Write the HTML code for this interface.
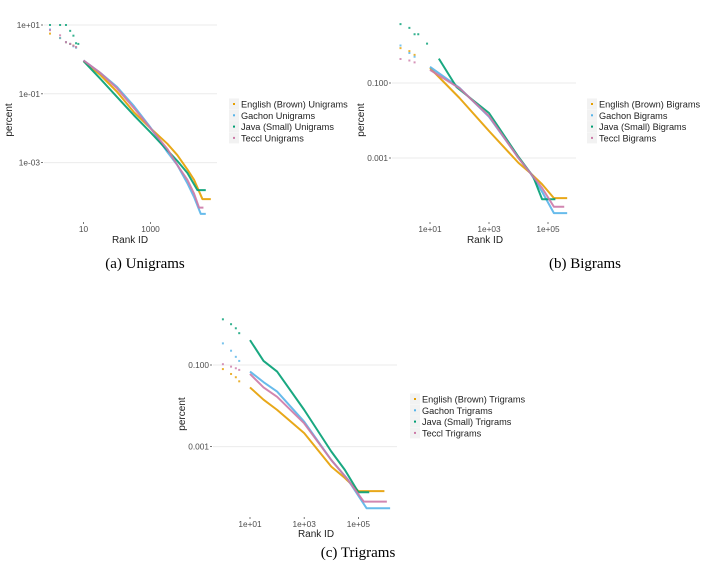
<!DOCTYPE html>
<html><head><meta charset="utf-8"><style>
body{margin:0;background:#fff;width:710px;height:567px;overflow:hidden}
svg{display:block}
.sans{font-family:"Liberation Sans",sans-serif}
.serif{font-family:"Liberation Serif",serif}
</style></head><body>
<svg id="s" width="710" height="567"></svg>
<script>
// ---- Data (log10 rank, log10 percent) ----
const seriesNames = ["English (Brown)","Gachon","Java (Small)","Teccl"];
const seriesColors = ["#E69F00","#56B4E9","#009E73","#CC79A7"];
// Unigrams
const uniRank = [
 [0,0.301,0.477,0.602,0.699,0.778,1,1.5,2,2.5,3,3.5,3.8,4.1,4.3,4.55,4.8],
 [0,0.301,0.477,0.602,0.699,0.778,1,1.5,2,2.5,3,3.5,3.8,4.1,4.3,4.5,4.65],
 [0,0.301,0.477,0.602,0.699,0.778,0.845,1,1.5,2,2.5,3,3.5,3.8,4.1,4.4,4.65],
 [0,0.301,0.477,0.602,0.699,0.778,1,1.5,2,2.5,3,3.5,3.8,4.1,4.3,4.45,4.58]];
const uniVal = [
 [0.75,0.62,0.5,0.45,0.4,0.35,-0.05,-0.45,-0.94,-1.53,-2.0,-2.45,-2.78,-3.2,-3.5,-4.06,-4.06],
 [0.87,0.62,0.5,0.45,0.38,0.34,-0.03,-0.39,-0.8,-1.35,-1.98,-2.69,-3.07,-3.6,-4.0,-4.49,-4.49],
 [1.0,1.0,1.0,0.83,0.69,0.47,0.45,-0.05,-0.56,-1.09,-1.62,-2.12,-2.64,-2.95,-3.3,-3.8,-3.8],
 [0.85,0.7,0.5,0.45,0.4,0.36,-0.03,-0.39,-0.84,-1.41,-2.0,-2.6,-3.07,-3.5,-3.9,-4.31,-4.31]];
// Bigrams
const biRank = [
 [0,0.301,0.477,1,2,3,4,4.4,4.8,5.2,5.65],
 [0,0.301,0.477,1,2,3,4,4.4,4.8,5.2,5.65],
 [0,0.301,0.477,0.602,0.9,1.3,1.9,3,4,4.5,4.8,5.25],
 [0,0.301,0.477,1,2,3,4,4.4,4.8,5.2,5.55]];
const biVal = [
 [-0.07,-0.15,-0.25,-0.6,-1.4,-2.28,-3.13,-3.4,-3.7,-4.07,-4.07],
 [0.0,-0.2,-0.3,-0.57,-1.13,-1.9,-3.0,-3.4,-3.9,-4.47,-4.47],
 [0.57,0.47,0.3,0.3,0.05,-0.35,-1.11,-1.8,-2.97,-3.5,-4.1,-4.1],
 [-0.36,-0.4,-0.45,-0.65,-1.14,-1.88,-3.0,-3.4,-3.8,-4.3,-4.3]];
// Trigrams
const triRank = [
 [0,0.301,0.477,0.602,1,1.5,2,3,4,4.5,5,5.96],
 [0,0.301,0.477,0.602,1,1.5,2,3,4,4.6,5.3,6.17],
 [0,0.301,0.477,0.602,1,1.5,2,3,4,4.5,5,5.4],
 [0,0.301,0.477,0.602,1,1.5,2,3,4,4.6,5.2,6.05]];
const triVal = [
 [-1.1,-1.22,-1.3,-1.4,-1.55,-1.85,-2.1,-2.67,-3.49,-3.77,-4.09,-4.09],
 [-0.47,-0.65,-0.8,-0.9,-1.16,-1.42,-1.65,-2.39,-3.33,-3.8,-4.51,-4.51],
 [0.12,0.0,-0.1,-0.22,-0.39,-0.9,-1.16,-2.1,-3.12,-3.57,-4.12,-4.12],
 [-0.98,-1.04,-1.08,-1.12,-1.22,-1.55,-1.78,-2.43,-3.33,-3.8,-4.35,-4.35]];
const uniXTicks = ["10","1000"], uniXTickPos=[1,3];
const uniYTicks = ["1e+01","1e-01","1e-03"], uniYTickPos=[1,-1,-3];
const biXTicks = ["1e+01","1e+03","1e+05"], biXTickPos=[1,3,5];
const biYTicks = ["0.100","0.001"], biYTickPos=[-1,-3];
const triXTicks = ["1e+01","1e+03","1e+05"], triXTickPos=[1,3,5];
const triYTicks = ["0.100","0.001"], triYTickPos=[-1,-3];

const NS="http://www.w3.org/2000/svg";
const svg=document.getElementById('s');
function mk(tag,attrs,parent,txt){const e=document.createElementNS(NS,tag);for(const k in attrs)e.setAttribute(k,attrs[k]);if(txt!==undefined)e.textContent=txt;(parent||svg).appendChild(e);return e;}

function chart(cfg){
 const g=mk('g',{});
 
 
 const X=lr=>cfg.x0+cfg.xd*lr, Y=lv=>cfg.y0-cfg.yd*(lv-cfg.yref);
 cfg.yTickPos.forEach((v,i)=>{
  const l=mk('line',{x1:cfg.gx0,x2:cfg.gx1,y1:Y(v),y2:Y(v),stroke:'#ebebeb','stroke-width':1},g);
  
  mk('line',{x1:cfg.gx0-3,x2:cfg.gx0-1,y1:Y(v),y2:Y(v),stroke:'#555','stroke-width':0.8},g);
  const t=mk('text',{class:'sans',x:cfg.gx0-4,y:Y(v)+3,'font-size':8.3,fill:'#4d4d4d','text-anchor':'end'},g,cfg.yTicks[i]);
  
 });
 cfg.xTickPos.forEach((v,i)=>{
  mk('line',{x1:X(v),x2:X(v),y1:cfg.axisY-4,y2:cfg.axisY-2,stroke:'#555','stroke-width':0.8},g);
  const t=mk('text',{class:'sans',x:X(v),y:cfg.axisY+6,'font-size':8.3,fill:'#4d4d4d','text-anchor':'middle'},g,cfg.xTicks[i]);
  
 });
 cfg.ranks.forEach((rk,si)=>{
  const vals=cfg.vals[si], col=seriesColors[si];
  const s=mk('g',{},g);
  
  
  let pts=[];
  rk.forEach((r,i)=>{
   if(r<0.95){mk('rect',{x:X(r)-1,y:Y(vals[i])-1,width:2,height:2,fill:col,opacity:0.8},s);}
   else pts.push(X(r)+','+Y(vals[i]));
  });
  mk('polyline',{points:pts.join(' '),fill:'none',stroke:col,'stroke-width':2,'stroke-linejoin':'round',opacity:0.9},s);
 });
 const yt=mk('text',{class:'sans',x:cfg.ylx,y:cfg.yly,'font-size':10,fill:'#222','text-anchor':'middle',transform:`rotate(-90 ${cfg.ylx} ${cfg.yly})`},g,'percent');
 
 const xt=mk('text',{class:'sans',x:cfg.xlx,y:cfg.xly,'font-size':10,fill:'#222','text-anchor':'middle'},g,'Rank ID');
 
 seriesNames.forEach((n,i)=>{
  const ly=cfg.legY+i*11.3;
  const e=mk('g',{},g);
  
  mk('rect',{x:cfg.legX,y:ly-5.5,width:10,height:11,fill:'#f2f2f2'},e);
  mk('rect',{x:cfg.legX+4,y:ly-1,width:2,height:2,fill:seriesColors[i]},e);
  mk('text',{class:'sans',x:cfg.legX+12,y:ly+3.5,'font-size':9.2,fill:'#222'},e,n+' '+cfg.kind);
 });
 const c=mk('text',{class:'serif',x:cfg.capX,y:cfg.capY,'font-size':15,fill:'#000','text-anchor':'middle'},g,cfg.cap);
 
}
chart({name:'unigram-chart',kind:'Unigrams',cap:'(a) Unigrams',ranks:uniRank,vals:uniVal,
 xTicks:uniXTicks,xTickPos:uniXTickPos,yTicks:uniYTicks,yTickPos:uniYTickPos,
 x0:50,xd:33.5,y0:25,yd:34.4,yref:1,gx0:44,gx1:217,axisY:226,ylx:12,yly:120,xlx:130,xly:243,
 legX:229,legY:104,capX:145,capY:268});
chart({name:'bigram-chart',kind:'Bigrams',cap:'(b) Bigrams',ranks:biRank,vals:biVal,
 xTicks:biXTicks,xTickPos:biXTickPos,yTicks:biYTicks,yTickPos:biYTickPos,
 x0:400.5,xd:29.5,y0:83,yd:37.5,yref:-1,gx0:392,gx1:576,axisY:226,ylx:364,yly:120,xlx:485,xly:243,
 legX:587,legY:104,capX:585,capY:268});
chart({name:'trigram-chart',kind:'Trigrams',cap:'(c) Trigrams',ranks:triRank,vals:triVal,
 xTicks:triXTicks,xTickPos:triXTickPos,yTicks:triYTicks,yTickPos:triYTickPos,
 x0:222.9,xd:27.1,y0:365,yd:40.8,yref:-1,gx0:213,gx1:397,axisY:521,ylx:185,yly:414,xlx:316,xly:537,
 legX:410,legY:399,capX:358,capY:557});
</script>
</body></html>
